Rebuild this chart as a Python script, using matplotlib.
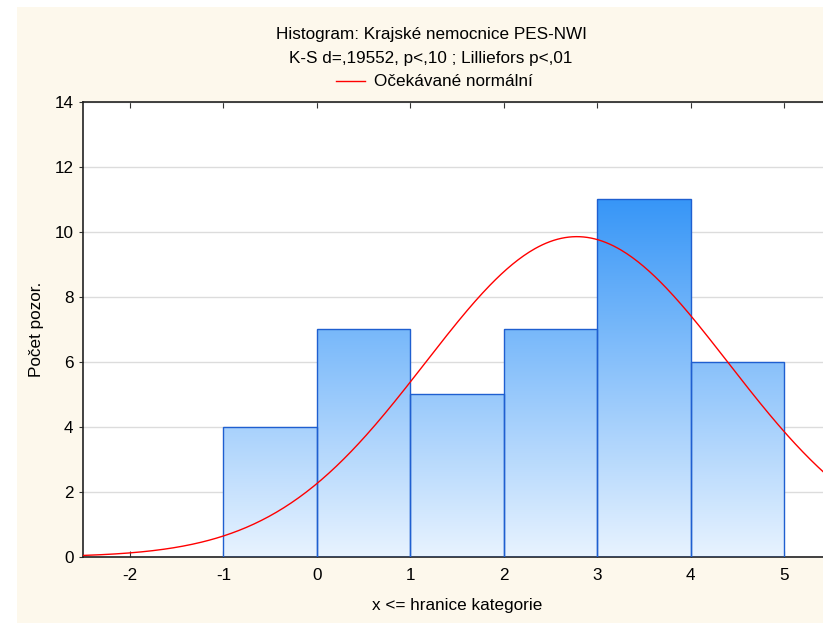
import numpy as np
import matplotlib
matplotlib.use('Agg')
import matplotlib.pyplot as plt
from matplotlib.patches import Rectangle
from matplotlib.colors import LinearSegmentedColormap

plt.rcParams['font.family'] = ['Liberation Sans', 'DejaVu Sans']
plt.rcParams['axes.unicode_minus'] = False

# histogram bins (upper bound of each category) and counts
bin_left = [-1, 0, 1, 2, 3, 4]
counts = [4, 7, 5, 7, 11, 6]
bin_width = 1.0

# expected normal fitted to the sample
n_obs = sum(counts)
mean_x = 2.78
sd_x = 1.62

x_ticks = [-2, -1, 0, 1, 2, 3, 4, 5]
y_ticks = [0, 2, 4, 6, 8, 10, 12, 14]

title_lines = ['Histogram: Krajské nemocnice PES-NWI',
               'K-S d=,19552, p<,10 ; Lilliefors p<,01']
legend_label = 'Očekávané normální'

cream = '#fdf8ec'
fs = 12.3

fig = plt.figure(figsize=(8.23, 6.23), dpi=100, facecolor='white')
fig.patches.append(Rectangle((17 / 823, 0), 1, 1 - 7 / 623, transform=fig.transFigure,
                             facecolor=cream, edgecolor='none', zorder=-10))

ax_h = 557 - 101.7
ax_w = 831 - 83.3
ax = fig.add_axes([83.3 / 823, 66 / 623, ax_w / 823, ax_h / 623])
ax.set_facecolor('white')
ax.set_xlim(-2.5, 5.5)
ax.set_ylim(0, 14)

# gradient-filled bars
grad = LinearSegmentedColormap.from_list('blu', ['#e8f3ff', '#3796f7'])
bars = ax.bar(bin_left, counts, width=bin_width, align='edge', facecolor='none',
              edgecolor='#1f5fd0', linewidth=1.0, zorder=3)
gy = np.linspace(0, 1, 256).reshape(-1, 1)
for b in bars:
    im = ax.imshow(gy, cmap=grad, origin='lower', aspect='auto',
                   extent=(-2.5, 5.5, 0, max(counts)), zorder=2, interpolation='bilinear')
    im.set_clip_path(b)

# expected normal curve
xs = np.linspace(-2.5, 5.5, 400)
ys = n_obs * bin_width * np.exp(-0.5 * ((xs - mean_x) / sd_x) ** 2) / (sd_x * np.sqrt(2 * np.pi))
ax.plot(xs, ys, color='#ff0000', linewidth=1.0, zorder=4)

ax.set_xticks(x_ticks)
ax.set_yticks(y_ticks)
ax.tick_params(axis='x', direction='in', length=4, top=True, labelsize=fs, pad=8, color='#333333')
ax.tick_params(axis='y', direction='out', length=3, labelsize=fs, pad=4, color='#333333')
ax.yaxis.grid(True, color='#dcdcdc', linewidth=1.0)
ax.set_axisbelow(True)
for s in ['left', 'bottom', 'top']:
    ax.spines[s].set_linewidth(1.2)
    ax.spines[s].set_color('#222222')
ax.spines['right'].set_visible(False)

ax.set_xlabel('x <= hranice kategorie', fontsize=fs)
ax.xaxis.set_label_coords(0.5, -(598 - 557) / ax_h)
ax.set_ylabel('Počet pozor.', fontsize=fs)
ax.yaxis.set_label_coords(-(83.3 - 44) / ax_w, 0.5)

fig.text(431 / 823, 1 - 35 / 623, title_lines[0], ha='center', va='center', fontsize=fs)
fig.text(431 / 823, 1 - 59 / 623, title_lines[1], ha='center', va='center', fontsize=fs)
fig.lines.append(plt.Line2D([336 / 823, 365 / 823], [1 - 81 / 623, 1 - 81 / 623],
                            transform=fig.transFigure, color='#ff0000', linewidth=1.0))
fig.text(374 / 823, 1 - 82 / 623, legend_label, ha='left', va='center', fontsize=fs)

fig.savefig('out.png', dpi=100, facecolor='white')
